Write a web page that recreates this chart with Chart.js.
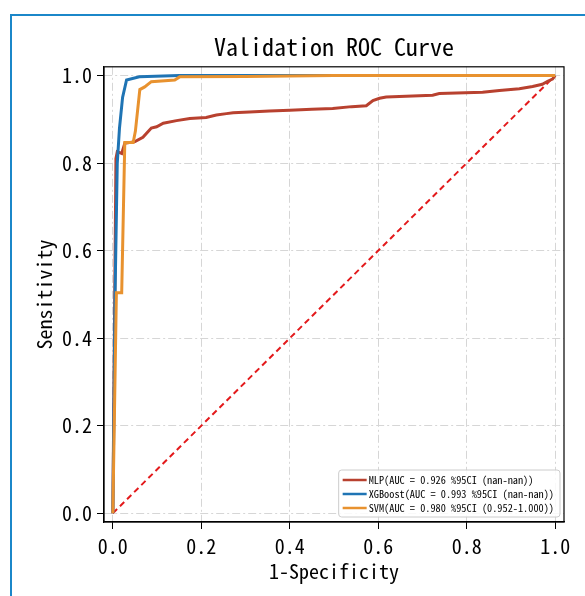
<!DOCTYPE html>
<html>
<head>
<meta charset="utf-8">
<script src="https://cdn.jsdelivr.net/npm/chart.js@4.4.1/dist/chart.umd.min.js"></script>
<style>
  body { margin: 0; overflow: hidden; background: #fff; }
  #wrap { position: relative; width: 585px; height: 596px; }
  #frame { position: absolute; left: 10px; top: 14px; width: 700px; height: 700px;
           border-left: 2px solid #1b87c9; border-top: 2px solid #1b87c9; pointer-events: none; }
</style>
</head>
<body>
<div id="wrap">
  <canvas id="roc" width="585" height="596"></canvas>
  <div id="frame"></div>
</div>
<script>
// ========================
// DATA
// ========================
const FONT = '"Noto Sans Mono CJK SC", "DejaVu Sans Mono", monospace';

const tickVals = [0, 0.2, 0.4, 0.6, 0.8, 1.0];

const mlpFpr = [0, 0.007, 0.01, 0.02, 0.027, 0.05, 0.068, 0.087, 0.099, 0.114, 0.144, 0.174, 0.211, 0.234, 0.257, 0.272, 0.309, 0.354, 0.4, 0.45, 0.497, 0.54, 0.573, 0.588, 0.603, 0.618, 0.723, 0.738, 0.836, 0.874, 0.919, 0.949, 0.971, 0.983, 0.994, 1.0];
const mlpTpr = [0, 0.81, 0.826, 0.822, 0.845, 0.849, 0.859, 0.88, 0.883, 0.891, 0.897, 0.902, 0.904, 0.91, 0.913, 0.915, 0.917, 0.919, 0.921, 0.923, 0.925, 0.929, 0.931, 0.943, 0.948, 0.951, 0.955, 0.959, 0.962, 0.966, 0.97, 0.975, 0.98, 0.987, 0.992, 1.0];

const xgbFpr = [0, 0.002, 0.005, 0.01, 0.015, 0.022, 0.031, 0.06, 0.15, 1.0];
const xgbTpr = [0, 0.2, 0.5, 0.8, 0.88, 0.95, 0.99, 0.997, 1.0, 1.0];

const svmFpr = [0, 0.008, 0.02, 0.027, 0.046, 0.051, 0.061, 0.072, 0.087, 0.14, 0.151, 0.3, 0.5, 1.0];
const svmTpr = [0, 0.504, 0.504, 0.847, 0.847, 0.873, 0.968, 0.974, 0.986, 0.99, 0.997, 0.998, 1.0, 1.0];

const diagFpr = [0, 1];
const diagTpr = [0, 1];

const legendLabels = [
  'MLP(AUC = 0.926 %95CI (nan-nan))',
  'XGBoost(AUC = 0.993 %95CI (nan-nan))',
  'SVM(AUC = 0.980 %95CI (0.952-1.000))'
];
const legendColors = ['#b8412f', '#1f74b4', '#e8922f'];

function pts(xs, ys) {
  return xs.map((x, i) => ({ x: x, y: ys[i] }));
}

// ========================
// FRAME + LEGEND PLUGIN
// ========================
const frameLegend = {
  id: 'frameLegend',
  afterDraw(chart) {
    const { ctx, chartArea: a } = chart;
    ctx.save();
    ctx.strokeStyle = '#000';
    ctx.lineWidth = 1.2;
    ctx.strokeRect(a.left, a.top, a.right - a.left, a.bottom - a.top);

    ctx.font = '10.3px ' + FONT;
    const textW = Math.max(...legendLabels.map(t => ctx.measureText(t).width));
    const rowH = 14;
    const boxW = 30 + textW + 6;
    const boxH = legendLabels.length * rowH + 5;
    const x0 = a.right - 4 - boxW;
    const y0 = a.bottom - 5 - boxH;

    ctx.beginPath();
    ctx.roundRect(x0, y0, boxW, boxH, 3);
    ctx.fillStyle = 'rgba(255,255,255,0.85)';
    ctx.fill();
    ctx.strokeStyle = '#cccccc';
    ctx.lineWidth = 1;
    ctx.stroke();

    ctx.textBaseline = 'middle';
    ctx.textAlign = 'left';
    legendLabels.forEach((t, i) => {
      const cy = y0 + 10 + i * rowH;
      ctx.beginPath();
      ctx.moveTo(x0 + 4, cy);
      ctx.lineTo(x0 + 28, cy);
      ctx.strokeStyle = legendColors[i];
      ctx.lineWidth = 2.5;
      ctx.stroke();
      ctx.fillStyle = '#000';
      ctx.fillText(t, x0 + 30, cy);
    });
    ctx.restore();
  }
};

// ========================
// CHART
// ========================
const tickFont = { family: FONT, size: 20 };
const gridDash = [8, 3, 2, 3];

function axis(titleText, isX) {
  return {
    type: 'linear',
    min: -0.02,
    max: 1.02,
    afterBuildTicks: s => { s.ticks = tickVals.map(v => ({ value: v })); },
    afterFit: s => { if (isX) s.height = 74; else s.width = 104; },
    ticks: { callback: v => v.toFixed(1), font: tickFont, color: '#000', padding: 5, maxRotation: 0, autoSkip: false },
    grid: { color: '#d6d6d6', lineWidth: 1, tickLength: 7, tickColor: '#000', tickWidth: 1 },
    border: { display: true, color: '#000', width: 1.2, dash: gridDash },
    title: {
      display: true, text: titleText, color: '#000',
      font: { family: FONT, size: 20 },
      padding: isX ? { top: 0, bottom: 13 } : { top: 32, bottom: 0 }
    }
  };
}

new Chart(document.getElementById('roc'), {
  type: 'scatter',
  data: {
    datasets: [
      { label: 'diag', data: pts(diagFpr, diagTpr), borderColor: '#e31a1c', borderWidth: 2, borderDash: [6, 4], order: 5 },
      { label: 'MLP', data: pts(mlpFpr, mlpTpr), borderColor: legendColors[0], borderWidth: 3, order: 4 },
      { label: 'XGBoost', data: pts(xgbFpr, xgbTpr), borderColor: legendColors[1], borderWidth: 3, order: 3 },
      { label: 'SVM', data: pts(svmFpr, svmTpr), borderColor: legendColors[2], borderWidth: 3, order: 2 }
    ].map(d => Object.assign(d, { showLine: true, pointRadius: 0, tension: 0, fill: false }))
  },
  options: {
    responsive: false,
    animation: false,
    layout: { padding: { left: 0, right: 21, top: 0, bottom: 0 } },
    plugins: {
      legend: { display: false },
      tooltip: { enabled: false },
      title: {
        display: true, fullSize: false, text: 'Validation ROC Curve', color: '#000',
        font: { family: FONT, size: 24, weight: 'normal' },
        padding: { top: 32, bottom: 6 }
      }
    },
    scales: { x: axis('1-Specificity', true), y: axis('Sensitivity', false) }
  },
  plugins: [frameLegend]
});
</script>
</body>
</html>
